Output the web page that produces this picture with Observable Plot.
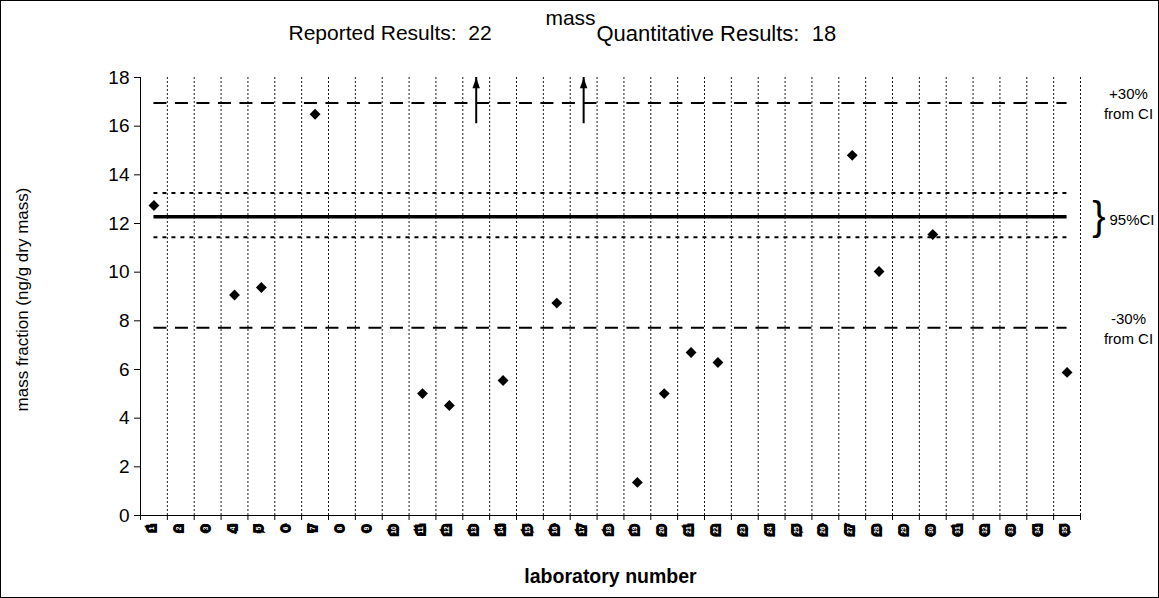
<!DOCTYPE html>
<html><head><meta charset="utf-8">
<script src="https://cdn.jsdelivr.net/npm/d3@7"></script>
<script src="https://cdn.jsdelivr.net/npm/@observablehq/plot@0.6"></script>
<style>
html,body{margin:0;padding:0;background:#fff;}
#chart svg{display:block;outline:1px solid #000;outline-offset:-1px;}
#chart svg text{white-space:pre;}
</style></head><body><div id="chart"></div>
<script>
// ---- data ----
const labNumbers = [1,2,3,4,5,6,7,8,9,10,11,12,13,14,15,16,17,18,19,20,21,22,23,24,25,26,27,28,29,30,31,32,33,34,35];
const resultLabs   = [1, 4, 5, 7, 11, 12, 14, 16, 19, 20, 21, 22, 27, 28, 30, 35];
const resultValues = [12.74, 9.06, 9.37, 16.49, 5.01, 4.52, 5.55, 8.73, 1.36, 5.01, 6.70, 6.29, 14.80, 10.03, 11.55, 5.88];
const offScaleLabs = [13, 17];
const offScaleArrowBase = [16.1, 16.1];
const offScaleArrowTip = [18, 18];
const consensusMean = [12.28];
const ciBounds = [11.43, 13.25];
const limitUpper = [16.95];
const limitLower = [7.72];
const yTicks = [0, 2, 4, 6, 8, 10, 12, 14, 16, 18];
const titleText = "mass";
const reportedText = "Reported Results:  22";
const quantText = "Quantitative Results:  18";
const yLabel = "mass fraction (ng/g dry mass)";
const xLabel = "laboratory number";
const upperNote = "+30%\nfrom CI";
const lowerNote = "-30%\nfrom CI";
const ciNote = "95%CI";

// ---- build ----
const results = resultLabs.map((lab, i) => ({lab, value: resultValues[i]}));
const arrows = offScaleLabs.map((lab, i) => ({lab, base: offScaleArrowBase[i], tip: offScaleArrowTip[i]}));
const boundaries = [labNumbers[0] - 0.5, ...labNumbers.map(d => d + 0.5)];
const firstLab = labNumbers[0], lastLab = labNumbers[labNumbers.length - 1];

const arrowHead = {
  draw(ctx, size) {
    const s = Math.sqrt(size);
    const h = s * 1.0, w = s * 0.35;
    ctx.moveTo(0, 0); ctx.lineTo(w, h); ctx.lineTo(-w, h); ctx.closePath();
  }
};

const font = "'Liberation Sans', Arial, Helvetica, sans-serif";
const chart = Plot.plot({
  width: 1159, height: 598,
  marginLeft: 140, marginRight: 79, marginTop: 77, marginBottom: 83,
  style: {fontFamily: font, background: "#fff", color: "#000", overflow: "visible"},
  x: {type: "linear", domain: [boundaries[0], boundaries[boundaries.length - 1]]},
  y: {domain: [0, 18]},
  marks: [
    // vertical dashed gridlines between labs
    Plot.ruleX(boundaries.slice(1), {stroke: "#000", strokeWidth: 1, strokeDasharray: "2,2", strokeOpacity: 0.9}),
    // reference lines
    Plot.ruleY(limitUpper.concat(limitLower), {x1: () => firstLab, x2: () => lastLab, stroke: "#000", strokeWidth: 2, strokeDasharray: "13,8.5"}),
    Plot.ruleY(ciBounds, {x1: () => firstLab, x2: () => lastLab, stroke: "#000", strokeWidth: 2, strokeDasharray: "4,5"}),
    Plot.ruleY(consensusMean, {x1: () => firstLab, x2: () => lastLab, stroke: "#000", strokeWidth: 3.5}),
    // axes lines
    Plot.ruleY([0], {stroke: "#000", strokeWidth: 1}),
    Plot.ruleX([boundaries[0]], {stroke: "#000", strokeWidth: 1}),
    Plot.axisY({ticks: yTicks, tickSize: 6, tickPadding: 5, fontSize: 19, label: null, stroke: "#000"}),
    Plot.axisX({ticks: boundaries, tickSize: 5, tickFormat: () => "", label: null, stroke: "#000"}),
    // lab number tick labels (inverted blocks)
    Plot.text(labNumbers, {x: d => d, frameAnchor: "bottom", dy: 11, rotate: -90, textAnchor: "end",
      text: d => String(d), fontSize: 6.5, fontWeight: "bold", fill: "#fff", stroke: "#000", strokeWidth: 6,
      strokeLinejoin: "miter", paintOrder: "stroke"}),
    // results
    Plot.dot(results, {x: "lab", y: "value", symbol: "diamond2", r: 4.9, fill: "#000", stroke: "none"}),
    // off-scale arrows
    Plot.ruleX(arrows, {x: "lab", y1: "base", y2: "tip", stroke: "#000", strokeWidth: 2}),
    Plot.dot(arrows, {x: "lab", y: "tip", symbol: arrowHead, r: 6, fill: "#000", stroke: "none"}),
    // right annotations
    Plot.text(limitUpper, {y: d => d, text: () => upperNote, frameAnchor: "right", textAnchor: "middle", dx: 48, fontSize: 15, lineHeight: 1.33}),
    Plot.text(limitLower, {y: d => d, text: () => lowerNote, frameAnchor: "right", textAnchor: "middle", dx: 48, fontSize: 15, lineHeight: 1.33}),
    Plot.text(consensusMean, {y: d => d, text: () => "}", frameAnchor: "right", textAnchor: "end", dx: 25, dy: 1, fontSize: 40}),
    Plot.text(consensusMean, {y: d => d, text: () => ciNote, frameAnchor: "right", dx: 29, dy: 4, textAnchor: "start", fontSize: 15}),
    // titles
    Plot.text([titleText], {text: d => d, frameAnchor: "top-left", textAnchor: "middle", dx: 430, dy: -67, fontSize: 21}),
    Plot.text([reportedText], {text: d => d, frameAnchor: "top-left", dx: 148, dy: -52, textAnchor: "start", fontSize: 21}),
    Plot.text([quantText], {text: d => d, frameAnchor: "top-left", dx: 456, dy: -52, textAnchor: "start", fontSize: 22}),
    // axis labels
    Plot.text([yLabel], {text: d => d, frameAnchor: "left", textAnchor: "middle", dx: -118, dy: 3, rotate: -90, fontSize: 17}),
    Plot.text([xLabel], {text: d => d, frameAnchor: "bottom", textAnchor: "middle", dy: 67, fontSize: 19.5, fontWeight: "bold"})
  ]
});
document.getElementById("chart").appendChild(chart);
</script>
</body></html>
